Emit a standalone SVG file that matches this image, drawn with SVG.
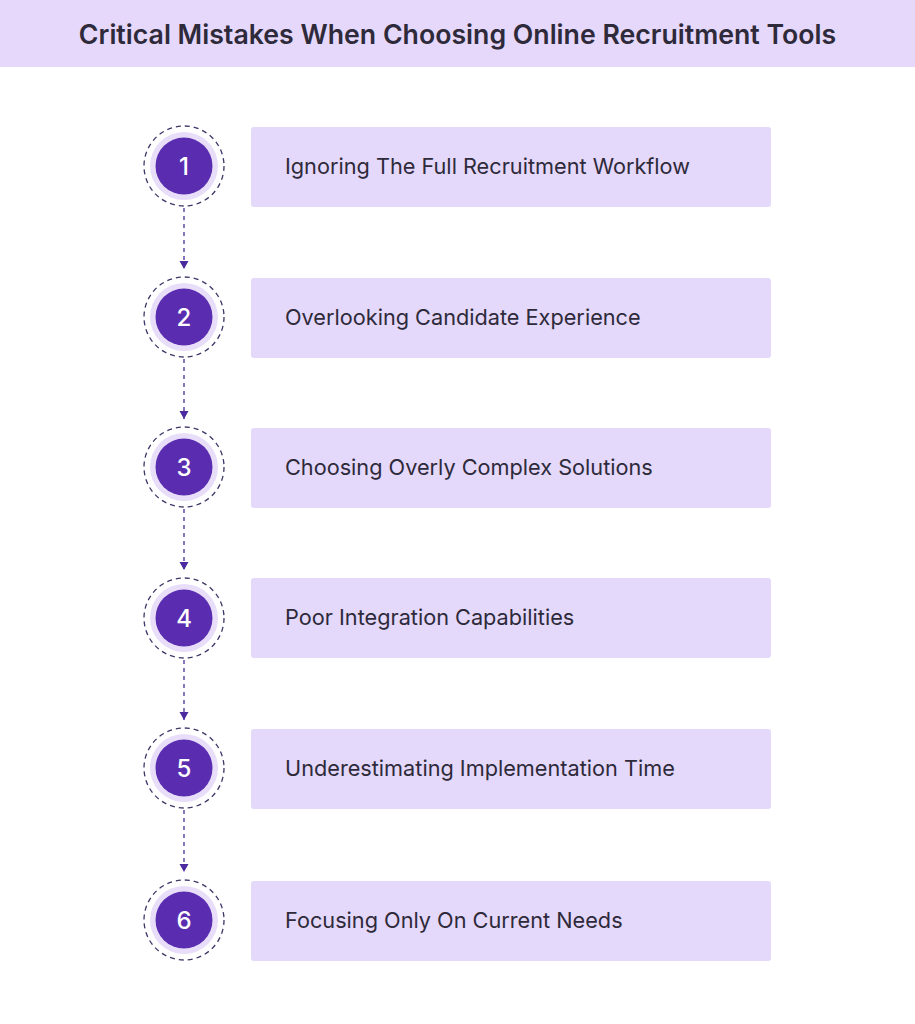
<svg xmlns="http://www.w3.org/2000/svg" width="915" height="1024" viewBox="0 0 915 1024">
<defs>
<style>
.box{fill:#e4d8fb}
.lbl{font-family:Inter,"Liberation Sans",sans-serif;font-size:21.7px;fill:#2e2a3a;dominant-baseline:central}
.ring{fill:#ffffff;stroke:#3c3868;stroke-width:1.3;stroke-dasharray:5 4}
.halo{fill:#e8def9}
.dot{fill:#5a2db0}
.num{font-family:Inter,"Liberation Sans",sans-serif;font-size:24px;font-weight:500;fill:#ffffff;text-anchor:middle;dominant-baseline:central}
.conn{stroke:#4a2a9e;stroke-width:1.3;stroke-dasharray:4 4;fill:none}
</style>
<marker id="arr" markerWidth="10" markerHeight="10" refX="8" refY="5" orient="auto" markerUnits="userSpaceOnUse">
<path d="M0,0.5 L8,5 L0,9.5 Z" fill="#4a2a9e"/>
</marker>
</defs>
<rect width="915" height="1024" fill="#ffffff"/>
<g id="header">
<rect x="0" y="0" width="915" height="67" fill="#e5d8fb"/>
<text x="457.5" y="34" text-anchor="middle" dominant-baseline="central" font-family="Inter,'Liberation Sans',sans-serif" font-size="26.7" font-weight="600" fill="#2e2a3a">Critical Mistakes When Choosing Online Recruitment Tools</text>
</g>
<g id="connectors">
<line class="conn" x1="184" y1="208" x2="184" y2="269" marker-end="url(#arr)"/>
<line class="conn" x1="184" y1="359" x2="184" y2="419" marker-end="url(#arr)"/>
<line class="conn" x1="184" y1="509" x2="184" y2="570" marker-end="url(#arr)"/>
<line class="conn" x1="184" y1="660" x2="184" y2="720" marker-end="url(#arr)"/>
<line class="conn" x1="184" y1="810" x2="184" y2="872" marker-end="url(#arr)"/>
</g>
<g id="step1">
<circle class="ring" cx="184" cy="166" r="40"/><circle class="halo" cx="184" cy="166" r="34"/><circle class="dot" cx="184" cy="166" r="28.5"/>
<text class="num" x="184" y="166">1</text>
<rect class="box" x="251" y="127" width="520" height="80" rx="3"/>
<text class="lbl" x="285" y="166">Ignoring The Full Recruitment Workflow</text>
</g>
<g id="step2">
<circle class="ring" cx="184" cy="317" r="40"/><circle class="halo" cx="184" cy="317" r="34"/><circle class="dot" cx="184" cy="317" r="28.5"/>
<text class="num" x="184" y="317">2</text>
<rect class="box" x="251" y="278" width="520" height="80" rx="3"/>
<text class="lbl" x="285" y="317">Overlooking Candidate Experience</text>
</g>
<g id="step3">
<circle class="ring" cx="184" cy="467" r="40"/><circle class="halo" cx="184" cy="467" r="34"/><circle class="dot" cx="184" cy="467" r="28.5"/>
<text class="num" x="184" y="467">3</text>
<rect class="box" x="251" y="428" width="520" height="80" rx="3"/>
<text class="lbl" x="285" y="467">Choosing Overly Complex Solutions</text>
</g>
<g id="step4">
<circle class="ring" cx="184" cy="618" r="40"/><circle class="halo" cx="184" cy="618" r="34"/><circle class="dot" cx="184" cy="618" r="28.5"/>
<text class="num" x="184" y="618">4</text>
<rect class="box" x="251" y="578" width="520" height="80" rx="3"/>
<text class="lbl" x="285" y="617">Poor Integration Capabilities</text>
</g>
<g id="step5">
<circle class="ring" cx="184" cy="768" r="40"/><circle class="halo" cx="184" cy="768" r="34"/><circle class="dot" cx="184" cy="768" r="28.5"/>
<text class="num" x="184" y="768">5</text>
<rect class="box" x="251" y="729" width="520" height="80" rx="3"/>
<text class="lbl" x="285" y="768">Underestimating Implementation Time</text>
</g>
<g id="step6">
<circle class="ring" cx="184" cy="920" r="40"/><circle class="halo" cx="184" cy="920" r="34"/><circle class="dot" cx="184" cy="920" r="28.5"/>
<text class="num" x="184" y="920">6</text>
<rect class="box" x="251" y="881" width="520" height="80" rx="3"/>
<text class="lbl" x="285" y="920">Focusing Only On Current Needs</text>
</g>
</svg>
